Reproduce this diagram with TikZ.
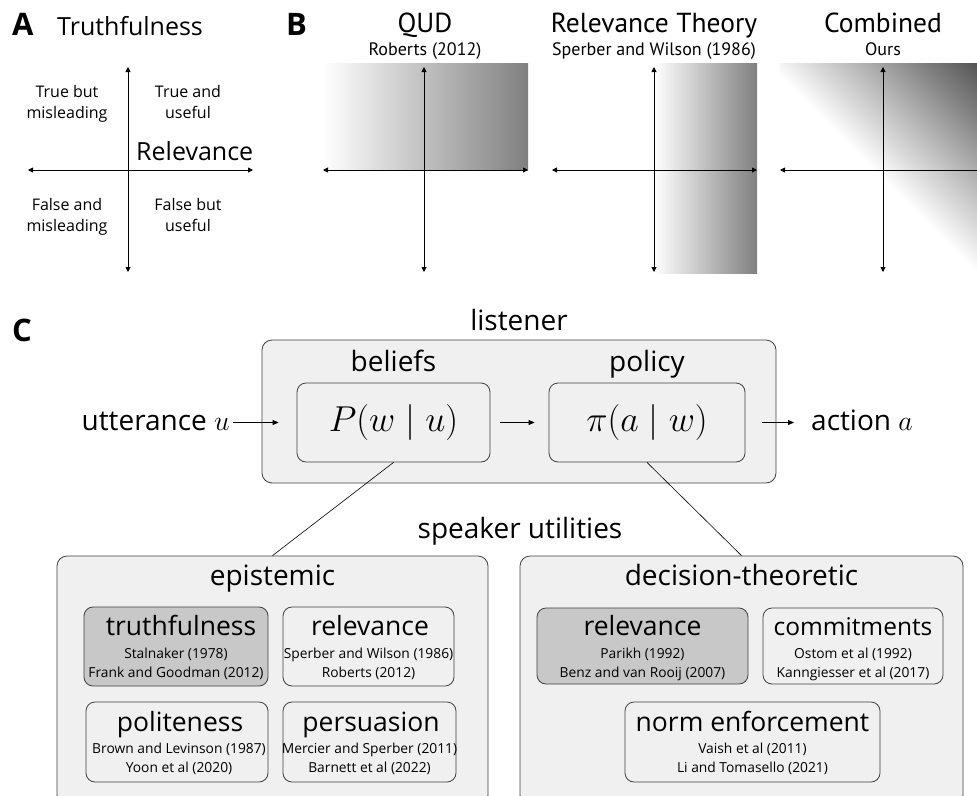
\RequirePackage{fix-cm}
\documentclass[tikz,border=0pt]{standalone}
\usepackage[no-math]{fontspec}
\setmainfont{Open Sans}
\newfontfamily\narrowfont{PT Sans}
\usetikzlibrary{arrows.meta,positioning}

\definecolor{boxgray}{HTML}{F0F0F0}
\definecolor{hlgray}{HTML}{C8C8C8}

\tikzset{
  panel/.style={font=\fontsize{31}{33}\selectfont\bfseries, anchor=base west, inner sep=0pt},
  big/.style={font=\fontsize{28}{30}\selectfont, anchor=base, inner sep=0pt},
  title/.style={font=\fontsize{26.5}{30}\selectfont, anchor=base, inner sep=0pt},
  head/.style={font=\fontsize{25}{28}\selectfont, anchor=base, inner sep=0pt},
  thead/.style={font=\narrowfont\fontsize{27.5}{30}\selectfont, anchor=base, inner sep=0pt},
  tref/.style={font=\narrowfont\fontsize{18}{20}\selectfont, anchor=base, inner sep=0pt},
  quad/.style={font=\fontsize{16}{20}\selectfont, anchor=base, inner sep=0pt},
  cite/.style={font=\fontsize{13.8}{16}\selectfont, anchor=base, inner sep=0pt},
  axis/.style={{Triangle[length=5pt,width=5pt]}-{Triangle[length=5pt,width=5pt]}, line width=0.9pt},
  outerbox/.style={draw=black!75, fill=boxgray, rounded corners=10pt, line width=0.8pt, inner sep=0pt},
  ubox/.style={draw=black!75, fill=boxgray, rounded corners=9pt, line width=0.8pt, inner sep=0pt},
  link/.style={line width=0.6pt},
  flow/.style={-{Triangle[length=6pt,width=5pt]}, line width=0.8pt},
}

\begin{document}
\begin{tikzpicture}[x=1pt, y=-1pt]
\path[use as bounding box] (0,0) rectangle (977,795);
\clip (0,0) rectangle (977,795);

% ---- A: truthfulness vs relevance
\node[panel] (labA) at (12,35) {A};
\node[head, anchor=base west] (truthA) at (57,35) {Truthfulness};
\draw[axis] (128,67) -- (128,272);
\draw[axis] (28,170) -- (253,170);
\node[head, anchor=base west] (relA) at (136,160) {Relevance};
\node[quad] (q1a) at (67,97) {True but};
\node[quad] (q1b) at (67,118) {misleading};
\node[quad] (q2a) at (188,97) {True and};
\node[quad] (q2b) at (188,118) {useful};
\node[quad] (q3a) at (67,210) {False and};
\node[quad] (q3b) at (67,231) {misleading};
\node[quad] (q4a) at (188,210) {False but};
\node[quad] (q4b) at (188,231) {useful};

% ---- B: three theories
\node[panel] (labB) at (286,35) {B};

\shade[left color=white, right color=black!50] (323,63) rectangle (528,170);
\draw[axis] (424,67) -- (424,272);
\draw[axis] (323,170) -- (528,170);
\node[thead] (qud) at (425,32) {QUD};
\node[tref] (qudref) at (425,55) {Roberts (2012)};

\shade[left color=white, right color=black!50] (654,63) rectangle (757,273);
\draw[axis] (654,67) -- (654,272);
\draw[axis] (552,170) -- (757,170);
\node[thead] (rt) at (654,32) {Relevance Theory};
\node[tref] (rtref) at (654,55) {Sperber and Wilson (1986)};

\begin{scope}
  \clip (780,63) rectangle (986,273);
  \begin{scope}[transform canvas={shift={(883,168)}, rotate=45}]
    \shade[left color=white, right color=black!70] (-8,-200) rectangle (147,200);
  \end{scope}
\end{scope}
\draw[axis] (883,67) -- (883,272);
\draw[axis] (780,170) -- (986,170);
\node[thead] (comb) at (883,32) {Combined};
\node[tref] (combref) at (883,55) {Ours};

% ---- C: listener
\node[panel] (labC) at (12,341) {C};
\node[big] (lis) at (519,330) {listener};
\node[outerbox, minimum width=514pt, minimum height=143pt] (listener) at (519,411.5) {};
\node[big] (bel) at (393.5,371) {beliefs};
\node[big] (pol) at (647,371) {policy};
\node[ubox, minimum width=193pt, minimum height=79pt, font=\fontsize{36}{38}\selectfont] (beliefs) at (393.5,422.5) {$P(w\mid u)$};
\node[ubox, minimum width=196pt, minimum height=79pt, font=\fontsize{36}{38}\selectfont] (policy) at (647,422.5) {$\pi(a\mid w)$};
\node[big, anchor=base east] (utt) at (230,430) {utterance $u$};
\node[big, anchor=base west] (act) at (811,430) {action $a$};
\draw[flow, shorten <=3pt, shorten >=18pt] (utt.east |- beliefs.west) -- (beliefs.west);
\draw[flow, shorten <=10pt, shorten >=14pt] (beliefs.east) -- (policy.west);
\draw[flow, shorten <=17pt, shorten >=17pt] (policy.east) -- (act.west |- policy.east);

% ---- C: speaker utilities
\node[big] (spk) at (520,538) {speaker utilities};
\node[outerbox, minimum width=431pt, minimum height=249pt] (epi) at (272.5,680.5) {};
\node[outerbox, minimum width=443pt, minimum height=249pt] (dec) at (741.5,680.5) {};
\draw[link] (beliefs.south) -- (epi.north);
\draw[link] (policy.south) -- (dec.north);
\node[big] (epit) at (272.5,585) {epistemic};
\node[big] (dect) at (741.5,585) {decision-theoretic};

% epistemic utilities
\node[ubox, fill=hlgray, minimum width=184pt, minimum height=79pt] (truth) at (176,646.5) {};
\node[title] at (181,635) {truthfulness};
\node[cite] at (176,658) {Stalnaker (1978)};
\node[cite] at (176,677) {Frank and Goodman (2012)};

\node[ubox, minimum width=171pt, minimum height=79pt] (relev) at (368.5,646.5) {};
\node[title] at (370,635) {relevance};
\node[cite] at (368.5,658) {Sperber and Wilson (1986)};
\node[cite] at (368.5,677) {Roberts (2012)};

\node[ubox, minimum width=182pt, minimum height=80pt] (polite) at (177,742) {};
\node[title] at (180,731) {politeness};
\node[cite] at (179,753) {Brown and Levinson (1987)};
\node[cite] at (179,772) {Yoon et al (2020)};

\node[ubox, minimum width=173pt, minimum height=80pt] (persu) at (369.5,742) {};
\node[title] at (371,731) {persuasion};
\node[cite] at (369.5,753) {Mercier and Sperber (2011)};
\node[cite] at (369.5,772) {Barnett et al (2022)};

% decision-theoretic utilities
\node[ubox, fill=hlgray, minimum width=211pt, minimum height=76pt] (drel) at (642.5,646) {};
\node[title] at (642.5,635) {relevance};
\node[cite] at (642.5,658) {Parikh (1992)};
\node[cite] at (642.5,677) {Benz and van Rooij (2007)};

\node[ubox, minimum width=180pt, minimum height=76pt] (commit) at (853,646) {};
\node[title, font=\fontsize{24.5}{28}\selectfont] at (853,635) {commitments};
\node[cite] at (853,658) {Ostom et al (1992)};
\node[cite] at (853,677) {Kanngiesser et al (2017)};

\node[ubox, minimum width=255pt, minimum height=80pt] (norm) at (752.5,742) {};
\node[title] at (752.5,731) {norm enforcement};
\node[cite] at (752.5,753) {Vaish et al (2011)};
\node[cite] at (752.5,772) {Li and Tomasello (2021)};
\end{tikzpicture}
\end{document}
